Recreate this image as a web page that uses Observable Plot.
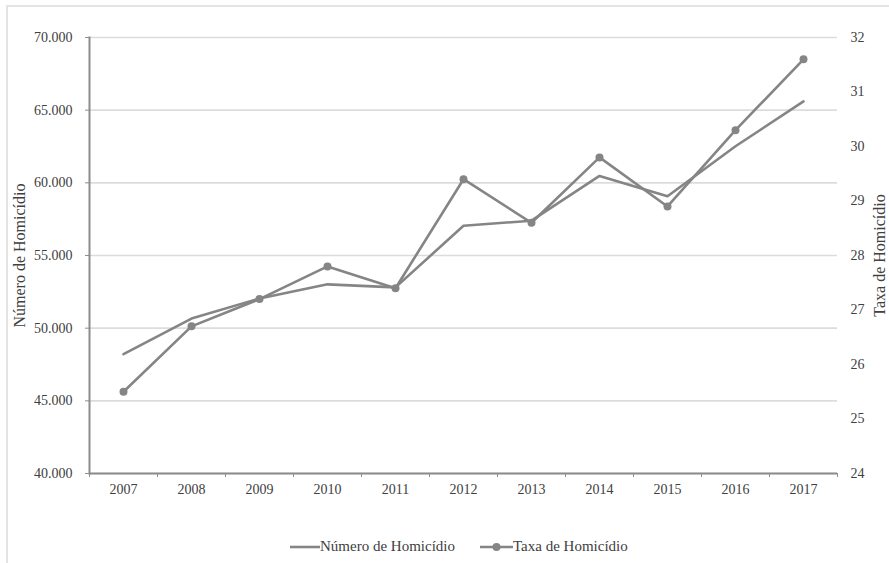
<!DOCTYPE html>
<html><head><meta charset="utf-8">
<script src="https://cdn.jsdelivr.net/npm/d3@7"></script>
<script src="https://cdn.jsdelivr.net/npm/@observablehq/plot@0.6"></script>
<style>
body{margin:0;background:#fff;font-family:"Liberation Serif","DejaVu Serif",serif;}
#wrap{position:relative;width:889px;height:563px;overflow:hidden;background:#fff;}
#border{position:absolute;left:6px;top:5px;right:-4px;bottom:-4px;border-left:2px solid #e4e4e4;border-top:2px solid #e4e4e4;}
#chart{position:absolute;left:0;top:0;}
#legend{position:absolute;top:538px;left:290px;display:flex;align-items:center;font-size:15px;color:#404040;white-space:nowrap;font-family:"Liberation Serif","DejaVu Serif",serif;}
#legend .item{display:flex;align-items:center;}
svg text{font-family:"Liberation Serif","DejaVu Serif",serif;}
</style></head>
<body><div id="wrap"><div id="border"></div><div id="chart"></div><div id="legend"></div></div>
<script>
const years = [2007, 2008, 2009, 2010, 2011, 2012, 2013, 2014, 2015, 2016, 2017];
const homicideCount = [48219, 50659, 52043, 53016, 52807, 57045, 57396, 60474, 59080, 62517, 65602];
const homicideRate = [25.5, 26.7, 27.2, 27.8, 27.4, 29.4, 28.6, 29.8, 28.9, 30.3, 31.6];
const leftTicks = [40000, 45000, 50000, 55000, 60000, 65000, 70000];
const rightTicks = [24, 25, 26, 27, 28, 29, 30, 31, 32];
const seriesNames = ["Número de Homicídio", "Taxa de Homicídio"];

const gray = "#858585";
const axisGray = "#8c8c8c";
const textColor = "#404040";
const serif = '"Liberation Serif","DejaVu Serif",serif';
// map the right-axis (rate) domain [24, 32] onto the left-axis domain [40000, 70000]
const r0 = rightTicks[0], r1 = rightTicks[rightTicks.length - 1];
const l0 = leftTicks[0], l1 = leftTicks[leftTicks.length - 1];
const toY = r => l0 + (r - r0) * (l1 - l0) / (r1 - r0);
const fromY = v => r0 + (v - l0) * (r1 - r0) / (l1 - l0);

const rows = years.map((yr, i) => ({year: yr, count: homicideCount[i], rate: homicideRate[i]}));
const bounds = d3.range(years[0] - 0.5, years[years.length - 1] + 1, 1);
const fmt = d => d3.format(",")(d).replace(/,/g, ".");

const plot = Plot.plot({
  width: 889, height: 525,
  marginLeft: 89, marginRight: 52, marginTop: 37, marginBottom: 52,
  style: {fontFamily: serif, fontSize: "14px", color: textColor, background: "transparent", overflow: "visible"},
  x: {domain: [years[0] - 0.5, years[years.length - 1] + 0.5]},
  y: {domain: [l0, l1]},
  marks: [
    Plot.gridY(leftTicks, {stroke: "#dcdcdc", strokeOpacity: 1, strokeWidth: 1.6}),
    Plot.axisY(leftTicks, {anchor: "left", tickSize: 4, tickPadding: 13, stroke: axisGray, tickFormat: fmt, label: null}),
    Plot.axisY(rightTicks.map(toY), {anchor: "right", tickSize: 0, tickPadding: 13, tickFormat: d => String(Math.round(fromY(d))), label: null}),
    Plot.axisX(bounds, {anchor: "bottom", tickSize: 4, stroke: axisGray, tickFormat: () => "", label: null}),
    Plot.axisX(years, {anchor: "bottom", tickSize: 0, tickPadding: 11, tickFormat: d => String(d), label: null}),
    Plot.ruleY([l0], {stroke: axisGray, strokeWidth: 2}),
    Plot.frame({anchor: "left", stroke: axisGray, strokeWidth: 2}),
    Plot.line(rows, {x: "year", y: "count", stroke: gray, strokeWidth: 2.6}),
    Plot.line(rows, {x: "year", y: d => toY(d.rate), stroke: gray, strokeWidth: 2.6}),
    Plot.dot(rows, {x: "year", y: d => toY(d.rate), r: 4, fill: gray, stroke: "none"}),
    Plot.text([seriesNames[0]], {frameAnchor: "left", dx: -70, rotate: -90, textAnchor: "middle", fill: textColor, fontSize: 16}),
    Plot.text([seriesNames[1]], {frameAnchor: "right", dx: 42, rotate: -90, textAnchor: "middle", fill: textColor, fontSize: 16})
  ]
});
document.getElementById("chart").appendChild(plot);

const legend = document.getElementById("legend");
legend.innerHTML = `
  <span class="item"><svg width="30" height="10"><line x1="0" y1="5" x2="30" y2="5" stroke="${gray}" stroke-width="2.6"/></svg><span>${seriesNames[0]}</span></span>
  <span class="item" style="margin-left:25px"><svg width="33" height="10"><line x1="0" y1="5" x2="33" y2="5" stroke="${gray}" stroke-width="2.6"/><circle cx="16.5" cy="5" r="4" fill="${gray}"/></svg><span>${seriesNames[1]}</span></span>`;
</script>
</body></html>
